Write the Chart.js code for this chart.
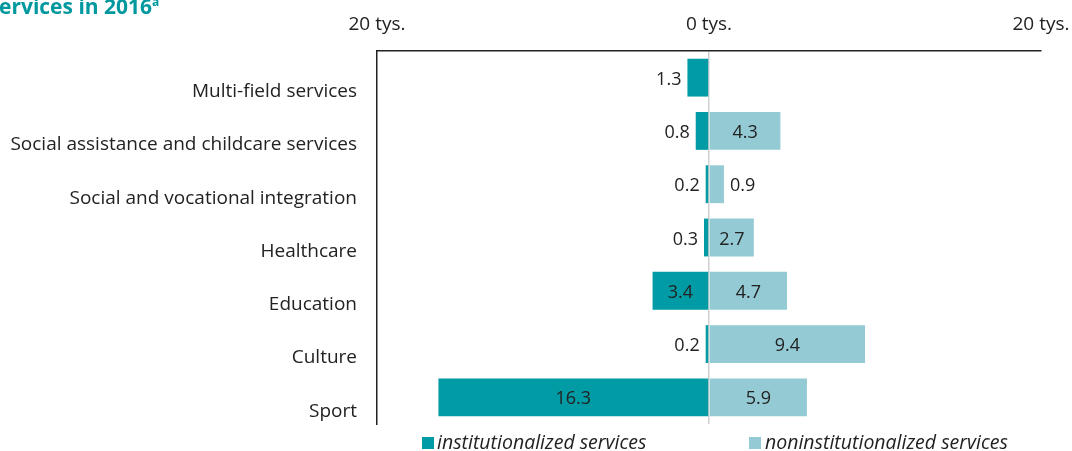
<!DOCTYPE html>
<html>
<head>
<meta charset="utf-8">
<script src="https://cdn.jsdelivr.net/npm/chart.js@4"></script>
<style>
  html, body { margin: 0; padding: 0; background: #fff; }
  #wrap { position: relative; width: 1072px; height: 451px; overflow: hidden; font-family: "Open Sans", sans-serif; }
  #title { position: absolute; left: -1px; top: -8px; color: #00989f; font-weight: bold; font-size: 21px; white-space: nowrap; }
  #title sup { font-size: 12px; }
  .item { position: absolute; top: 432px; white-space: nowrap; font-style: italic; font-size: 19.5px; line-height: 20px; color: #222; }
  .sw { position: absolute; top: 437px; width: 12px; height: 12px; }
</style>
</head>
<body>
<div id="wrap">
  <canvas id="chart" width="1072" height="451"></canvas>
  <div id="title">ervices in 2016<sup>a</sup></div>
  <div class="sw" style="left:422px;background:#009ba4"></div>
  <div class="item" style="left:437px">institutionalized services</div>
  <div class="sw" style="left:749px;background:#94cad4"></div>
  <div class="item" style="left:765px">noninstitutionalized services</div>
</div>
<script>
const categories = [
  "Multi-field services",
  "Social assistance and childcare services",
  "Social and vocational integration",
  "Healthcare",
  "Education",
  "Culture",
  "Sport"
];
const institutionalized = [1.3, 0.8, 0.2, 0.3, 3.4, 0.2, 16.3];
const noninstitutionalized = [null, 4.3, 0.9, 2.7, 4.7, 9.4, 5.9];
const xTicks = [-20, 0, 20];

const TEAL = "#009ba4";
const LIGHT = "#94cad4";

// value labels: inside the bar when it is wide enough, otherwise just outside
const valueLabels = {
  id: "valueLabels",
  afterDatasetsDraw(chart) {
    const ctx = chart.ctx;
    ctx.save();
    ctx.font = "18px 'Open Sans', sans-serif";
    ctx.fillStyle = "#222";
    ctx.textBaseline = "middle";
    chart.data.datasets.forEach((ds, di) => {
      const meta = chart.getDatasetMeta(di);
      meta.data.forEach((bar, i) => {
        const v = ds.data[i];
        if (v == null) return;
        const txt = Math.abs(v).toFixed(1);
        const w = Math.abs(bar.x - bar.base);
        if (w > 35) {
          ctx.textAlign = "center";
          ctx.fillText(txt, (bar.x + bar.base) / 2, bar.y + 2);
        } else if (v < 0) {
          ctx.textAlign = "right";
          ctx.fillText(txt, bar.x - 6, bar.y + 2);
        } else {
          ctx.textAlign = "left";
          ctx.fillText(txt, bar.x + 6, bar.y + 2);
        }
      });
    });
    ctx.restore();
  }
};

new Chart(document.getElementById("chart"), {
  type: "bar",
  data: {
    labels: categories,
    datasets: [
      {
        label: "institutionalized services",
        data: institutionalized.map((v) => -v),
        backgroundColor: TEAL,
        barPercentage: 0.71,
        categoryPercentage: 1
      },
      {
        label: "noninstitutionalized services",
        data: noninstitutionalized,
        backgroundColor: LIGHT,
        barPercentage: 0.71,
        categoryPercentage: 1
      }
    ]
  },
  options: {
    indexAxis: "y",
    responsive: false,
    animation: false,
    layout: { padding: { top: 0, right: 31, bottom: 27, left: 0 } },
    plugins: { legend: { display: false }, tooltip: { enabled: false } },
    scales: {
      x: {
        position: "top",
        stacked: true,
        min: -20,
        max: 20,
        afterBuildTicks: (scale) => { scale.ticks = xTicks.map((v) => ({ value: v })); },
        afterFit: (scale) => {
          scale.height = 51;
          scale.paddingLeft = 0;
          scale.paddingRight = 0;
        },
        ticks: {
          padding: 15,
          color: "#222",
          font: { family: "'Open Sans', sans-serif", size: 19 },
          callback: (v) => Math.abs(v) + " tys."
        },
        border: { display: true, color: "#222", width: 1.5 },
        grid: {
          drawTicks: false,
          color: (c) => (c.tick && c.tick.value === 0 ? "#d0d0d0" : "transparent"),
          lineWidth: 1.5
        }
      },
      y: {
        stacked: true,
        afterFit: (scale) => {
          scale.width = 377;
          scale.paddingTop = 0;
          scale.paddingBottom = 0;
        },
        ticks: {
          padding: 12,
          labelOffset: 14,
          color: "#222",
          font: { family: "'Open Sans', sans-serif", size: 19 }
        },
        border: { display: true, color: "#222", width: 1.5 },
        grid: { display: false }
      }
    }
  },
  plugins: [valueLabels]
});
</script>
</body>
</html>
